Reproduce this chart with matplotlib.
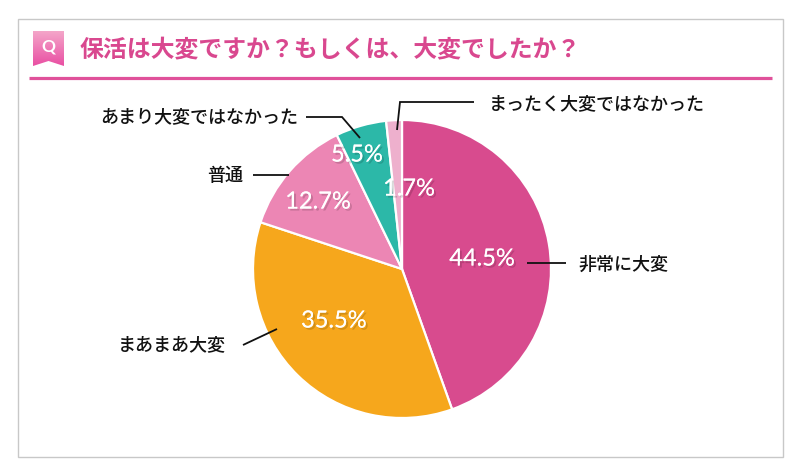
import matplotlib
matplotlib.use("Agg")
import matplotlib.pyplot as plt
import matplotlib.patheffects as pe
from matplotlib.patches import Rectangle, Polygon
import numpy as np

plt.rcParams['font.family'] = ['Noto Sans CJK JP', 'DejaVu Sans']

title = "保活は大変ですか？もしくは、大変でしたか？"
categories = ["非常に大変", "まあまあ大変", "普通", "あまり大変ではなかった", "まったく大変ではなかった"]
values = [44.5, 35.5, 12.7, 5.5, 1.7]
colors = ["#d84b8e", "#f6a71c", "#ec86b4", "#2cb8a8", "#eeb0cd"]
pct_labels = ["44.5%", "35.5%", "12.7%", "5.5%", "1.7%"]
pct_pos = [(482, 259), (334, 321), (318, 202), (357, 155), (409, 189)]
label_pos = [(578, 265, 'left'), (226, 345, 'right'), (243, 176, 'right'), (298, 117, 'right'), (489, 104, 'left')]
leaders = [
    [(527, 263), (566, 263)],
    [(243, 345), (277, 329)],
    [(253, 175), (289, 175)],
    [(306, 117), (342, 117), (360, 138)],
    [(397, 130), (400, 102), (474, 102)],
]

W, H = 800, 476
fig = plt.figure(figsize=(W / 100, H / 100), dpi=100, facecolor="white")

bg = fig.add_axes([0, 0, 1, 1], zorder=0)
bg.set_xlim(0, W); bg.set_ylim(H, 0); bg.axis("off")
bg.add_patch(Rectangle((17.5, 18.5), 765, 438, fc="white", ec="#c8c8c8", lw=1))
bg.plot([29, 772], [78, 78], color="#e0519a", lw=2.3, solid_capstyle="butt")

# Q ribbon with vertical gradient
grad = np.linspace(0, 1, 64).reshape(-1, 1, 1)
c0, c1 = np.array([0xf4, 0xa6, 0xc9]) / 255, np.array([0xe9, 0x4f, 0xa3]) / 255
img = (1 - grad) * c0 + grad * c1
im = bg.imshow(img, extent=(33, 64, 66, 31), aspect="auto", zorder=2)
rib = Polygon([(33, 31), (64, 31), (64, 66), (48.5, 61), (33, 66)], closed=True, fc="none", ec="none",
              transform=bg.transData)
bg.add_patch(rib)
im.set_clip_path(rib)
bg.set_xlim(0, W); bg.set_ylim(H, 0)
bg.text(48.5, 46.5, "Q", color="white", fontsize=12.5, fontweight="bold", ha="center", va="center",
        family=["Lato", "DejaVu Sans"], zorder=3)
bg.text(80, 49, title, color="#d9488f", fontsize=17.2, fontweight="bold", ha="left", va="center", zorder=3)

# pie: centre (402, 269), radius 149 px
cx, cy, r = 402, 269, 149
ax = fig.add_axes([(cx - r) / W, (H - cy - r) / H, 2 * r / W, 2 * r / H], zorder=1)
ax.pie(values, colors=colors, startangle=90, counterclock=False, radius=1,
       wedgeprops=dict(edgecolor="white", linewidth=1.6))
ax.set_xlim(-1, 1); ax.set_ylim(-1, 1)
ax.patch.set_alpha(0)

fg = fig.add_axes([0, 0, 1, 1], zorder=2)
fg.set_xlim(0, W); fg.set_ylim(H, 0); fg.axis("off"); fg.patch.set_alpha(0)

for seg in leaders:
    xs, ys = zip(*seg)
    fg.plot(xs, ys, color="#111111", lw=1.3, solid_capstyle="butt", solid_joinstyle="miter")

for name, (x, y, ha) in zip(categories, label_pos):
    fg.text(x, y, name, color="#111111", fontsize=13, fontweight="medium", ha=ha, va="center")

shadow = [pe.withSimplePatchShadow(offset=(1.5, -1.5), shadow_rgbFace="#000000", alpha=0.15), pe.Normal()]
for s, (x, y) in zip(pct_labels, pct_pos):
    t = fg.text(x, y, s, color="white", fontsize=17, ha="center", va="center",
                family=["Lato", "DejaVu Sans"])
    t.set_path_effects(shadow)

fig.savefig("out.png", dpi=100, facecolor="white")
